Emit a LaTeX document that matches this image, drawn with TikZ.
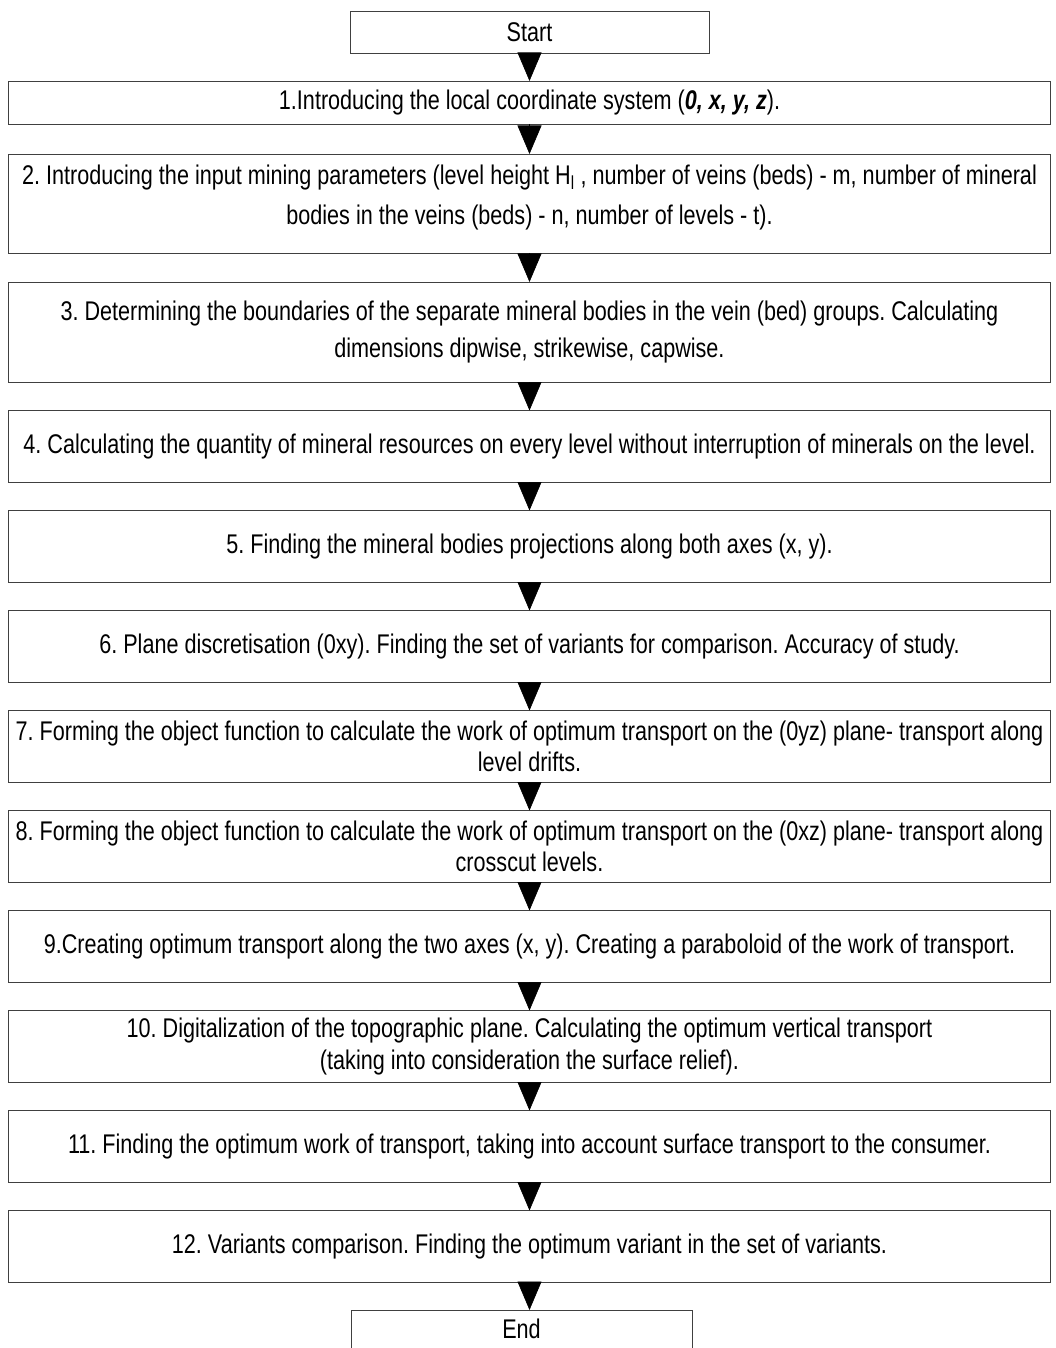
\documentclass[tikz,border=0pt]{standalone}
\usepackage{fontspec}
\setmainfont{Liberation Sans}[FakeStretch=0.80]
\usetikzlibrary{arrows.meta, positioning}
\frenchspacing

\begin{document}
\begin{tikzpicture}[
    x=1pt, y=1pt,
    node distance=28.5pt,
    stepbox/.style={draw=black!75, line width=0.8pt, inner sep=0pt, outer sep=0pt,
                    minimum width=1042pt, minimum height=#1, align=center,
                    font=\fontsize{27}{30}\selectfont},
    stepbox/.default=71.5pt,
    termbox/.style={draw=black!75, line width=0.8pt, inner sep=0pt, outer sep=0pt,
                    minimum width=#1, minimum height=42pt,
                    font=\fontsize{27}{30}\selectfont},
    arr/.style={-{Triangle[width=24pt, length=28.5pt]}, line width=0.6pt},
]
\useasboundingbox (0,0) rectangle (1055,-1348);

% Start
\node[termbox=359pt] (start) at (529.5,-32) {Start};

% Steps
\node[stepbox=43pt, below=28pt of start] (b1)
  {1.Introducing the local coordinate system (\textbf{\textit{0, x, y, z}}).};
\node[stepbox=99pt, below=30pt of b1] (b2)
  {2. Introducing the input mining parameters (level height H\textsubscript{l} , number of veins (beds) - m, number of mineral\\[10pt]
   bodies in the veins (beds) - n, number of levels - t).\\[-13pt]};
\node[stepbox=100pt, below=29pt of b2] (b3)
  {3. Determining the boundaries of the separate mineral bodies in the vein (bed) groups. Calculating\\[7pt]
   dimensions dipwise, strikewise, capwise.};
\node[stepbox, below=of b3] (b4)
  {4. Calculating the quantity of mineral resources on every level without interruption of minerals on the level.};
\node[stepbox, below=of b4] (b5)
  {5. Finding the mineral bodies projections along both axes (x, y).};
\node[stepbox, below=of b5] (b6)
  {6. Plane discretisation (0xy). Finding the set of variants for comparison. Accuracy of study.};
\node[stepbox, below=of b6] (b7)
  {7. Forming the object function to calculate the work of optimum transport on the (0yz) plane- transport along\\[1pt]
   level drifts.};
\node[stepbox, below=of b7] (b8)
  {8. Forming the object function to calculate the work of optimum transport on the (0xz) plane- transport along\\[1pt]
   crosscut levels.};
\node[stepbox, below=of b8] (b9)
  {9.Creating optimum transport along the two axes (x, y). Creating a paraboloid of the work of transport.};
\node[stepbox, below=of b9] (b10)
  {10. Digitalization of the topographic plane. Calculating the optimum vertical transport\\[2pt]
   (taking into consideration the surface relief).};
\node[stepbox, below=of b10] (b11)
  {11. Finding the optimum work of transport, taking into account surface transport to the consumer.};
\node[stepbox, below=of b11] (b12)
  {12. Variants comparison. Finding the optimum variant in the set of variants.};

% End
\node[termbox=341pt, minimum height=38pt, below=28pt of b12, xshift=-8pt] (end) {End};

% Arrows
\draw[arr] (start) -- (b1);
\draw[arr] (b1) -- (b2);
\draw[arr] (b2) -- (b3);
\draw[arr] (b3) -- (b4);
\draw[arr] (b4) -- (b5);
\draw[arr] (b5) -- (b6);
\draw[arr] (b6) -- (b7);
\draw[arr] (b7) -- (b8);
\draw[arr] (b8) -- (b9);
\draw[arr] (b9) -- (b10);
\draw[arr] (b10) -- (b11);
\draw[arr] (b11) -- (b12);
\draw[arr] (b12.south) -- (b12.south |- end.north);
\end{tikzpicture}
\end{document}
